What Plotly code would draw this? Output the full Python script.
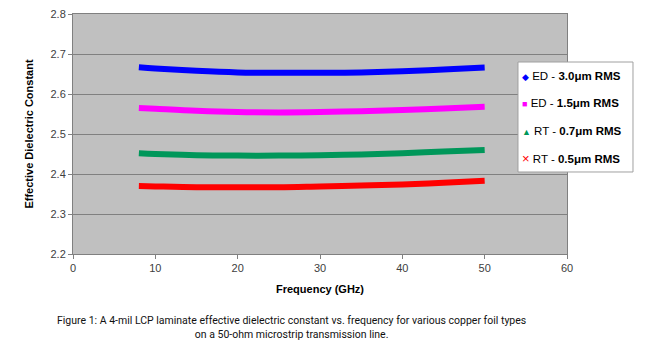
import plotly.graph_objects as go

freq = [8, 10, 15, 20, 25, 30, 35, 40, 45, 50]
ed_30 = [2.667, 2.664, 2.658, 2.654, 2.653, 2.653, 2.654, 2.657, 2.661, 2.666]
ed_15 = [2.565, 2.563, 2.558, 2.555, 2.554, 2.555, 2.557, 2.560, 2.564, 2.568]
rt_07 = [2.452, 2.450, 2.447, 2.446, 2.446, 2.447, 2.449, 2.452, 2.456, 2.460]
rt_05 = [2.370, 2.369, 2.367, 2.367, 2.367, 2.369, 2.371, 2.374, 2.378, 2.383]

series_prefix = ["ED - ", "ED - ", "RT - ", "RT - "]
series_bold = ["3.0\u03bcm RMS", "1.5\u03bcm RMS", "0.7\u03bcm RMS", "0.5\u03bcm RMS"]
series_vals = [ed_30, ed_15, rt_07, rt_05]
colors = ["#0000FF", "#FF00FF", "#00975A", "#FF0000"]
glyphs = ["\u25c6", "\u25a0", "\u25b2", "\u00d7"]

x_ticks = [0, 10, 20, 30, 40, 50, 60]
y_ticks = [2.2, 2.3, 2.4, 2.5, 2.6, 2.7, 2.8]

fig = go.Figure()
for pre, bold, vals, c in zip(series_prefix, series_bold, series_vals, colors):
    fig.add_trace(go.Scatter(x=freq, y=vals, mode="lines", name=pre + bold,
                             line=dict(color=c, width=6, shape="spline"),
                             showlegend=False, hoverinfo="skip"))

fig.update_layout(
    width=650, height=359,
    margin=dict(l=73, r=83, t=14, b=105, autoexpand=False),
    paper_bgcolor="white", plot_bgcolor="#C0C0C0",
    font=dict(family="Liberation Sans, Arial", size=11, color="#404040"),
    showlegend=False,
    xaxis=dict(range=[0, 60], tickvals=x_ticks, showgrid=False, zeroline=False,
               showline=True, linecolor="#808080", linewidth=1, mirror=True,
               ticks="outside", ticklen=4, tickcolor="#808080",
               title=dict(text="<b>Frequency (GHz)</b>", font=dict(size=11, color="#000000"), standoff=12)),
    yaxis=dict(range=[2.2, 2.8], tickvals=y_ticks, tickformat=".1f", showgrid=True, gridcolor="#808080",
               gridwidth=1, zeroline=False, showline=True, linecolor="#808080", linewidth=1, mirror=True,
               ticks="outside", ticklen=4, tickcolor="#808080",
               title=dict(text="<b>Effective Dielectric Constant</b>", font=dict(size=11, color="#000000"), standoff=14)),
)

# legend box (drawn manually to match compact layout)
fig.add_shape(type="rect", xref="paper", yref="paper", x0=0.9008, x1=1.1336, y0=0.3417, y1=0.8,
              fillcolor="white", line=dict(color="#A0A0A0", width=1), layer="above")
legend_y = [0.7417, 0.629, 0.5125, 0.4]
for pre, bold, c, g, ly in zip(series_prefix, series_bold, colors, glyphs, legend_y):
    gsize = 13 if g == "\u00d7" else 9
    fig.add_annotation(xref="paper", yref="paper", x=0.905, y=ly, xanchor="left", yanchor="middle",
                       showarrow=False,
                       text=f"<span style='color:{c};font-size:{gsize}px'>{g}</span> {pre}<b>{bold}</b>",
                       font=dict(family="Liberation Sans, Arial", size=11.5, color="#000000"))

fig.add_annotation(text="Figure 1: A 4-mil LCP laminate effective dielectric constant vs. frequency for various copper foil types<br>on a 50-ohm microstrip transmission line.",
                   xref="paper", yref="paper", x=0.443, y=-0.24, xanchor="center", yanchor="top",
                   showarrow=False, align="center",
                   font=dict(family="Roboto", size=10.5, color="#111111"))

fig.write_html("out.html", config={"displayModeBar": False},
               post_script="document.body.style.margin='0';document.body.style.overflow='hidden';")
